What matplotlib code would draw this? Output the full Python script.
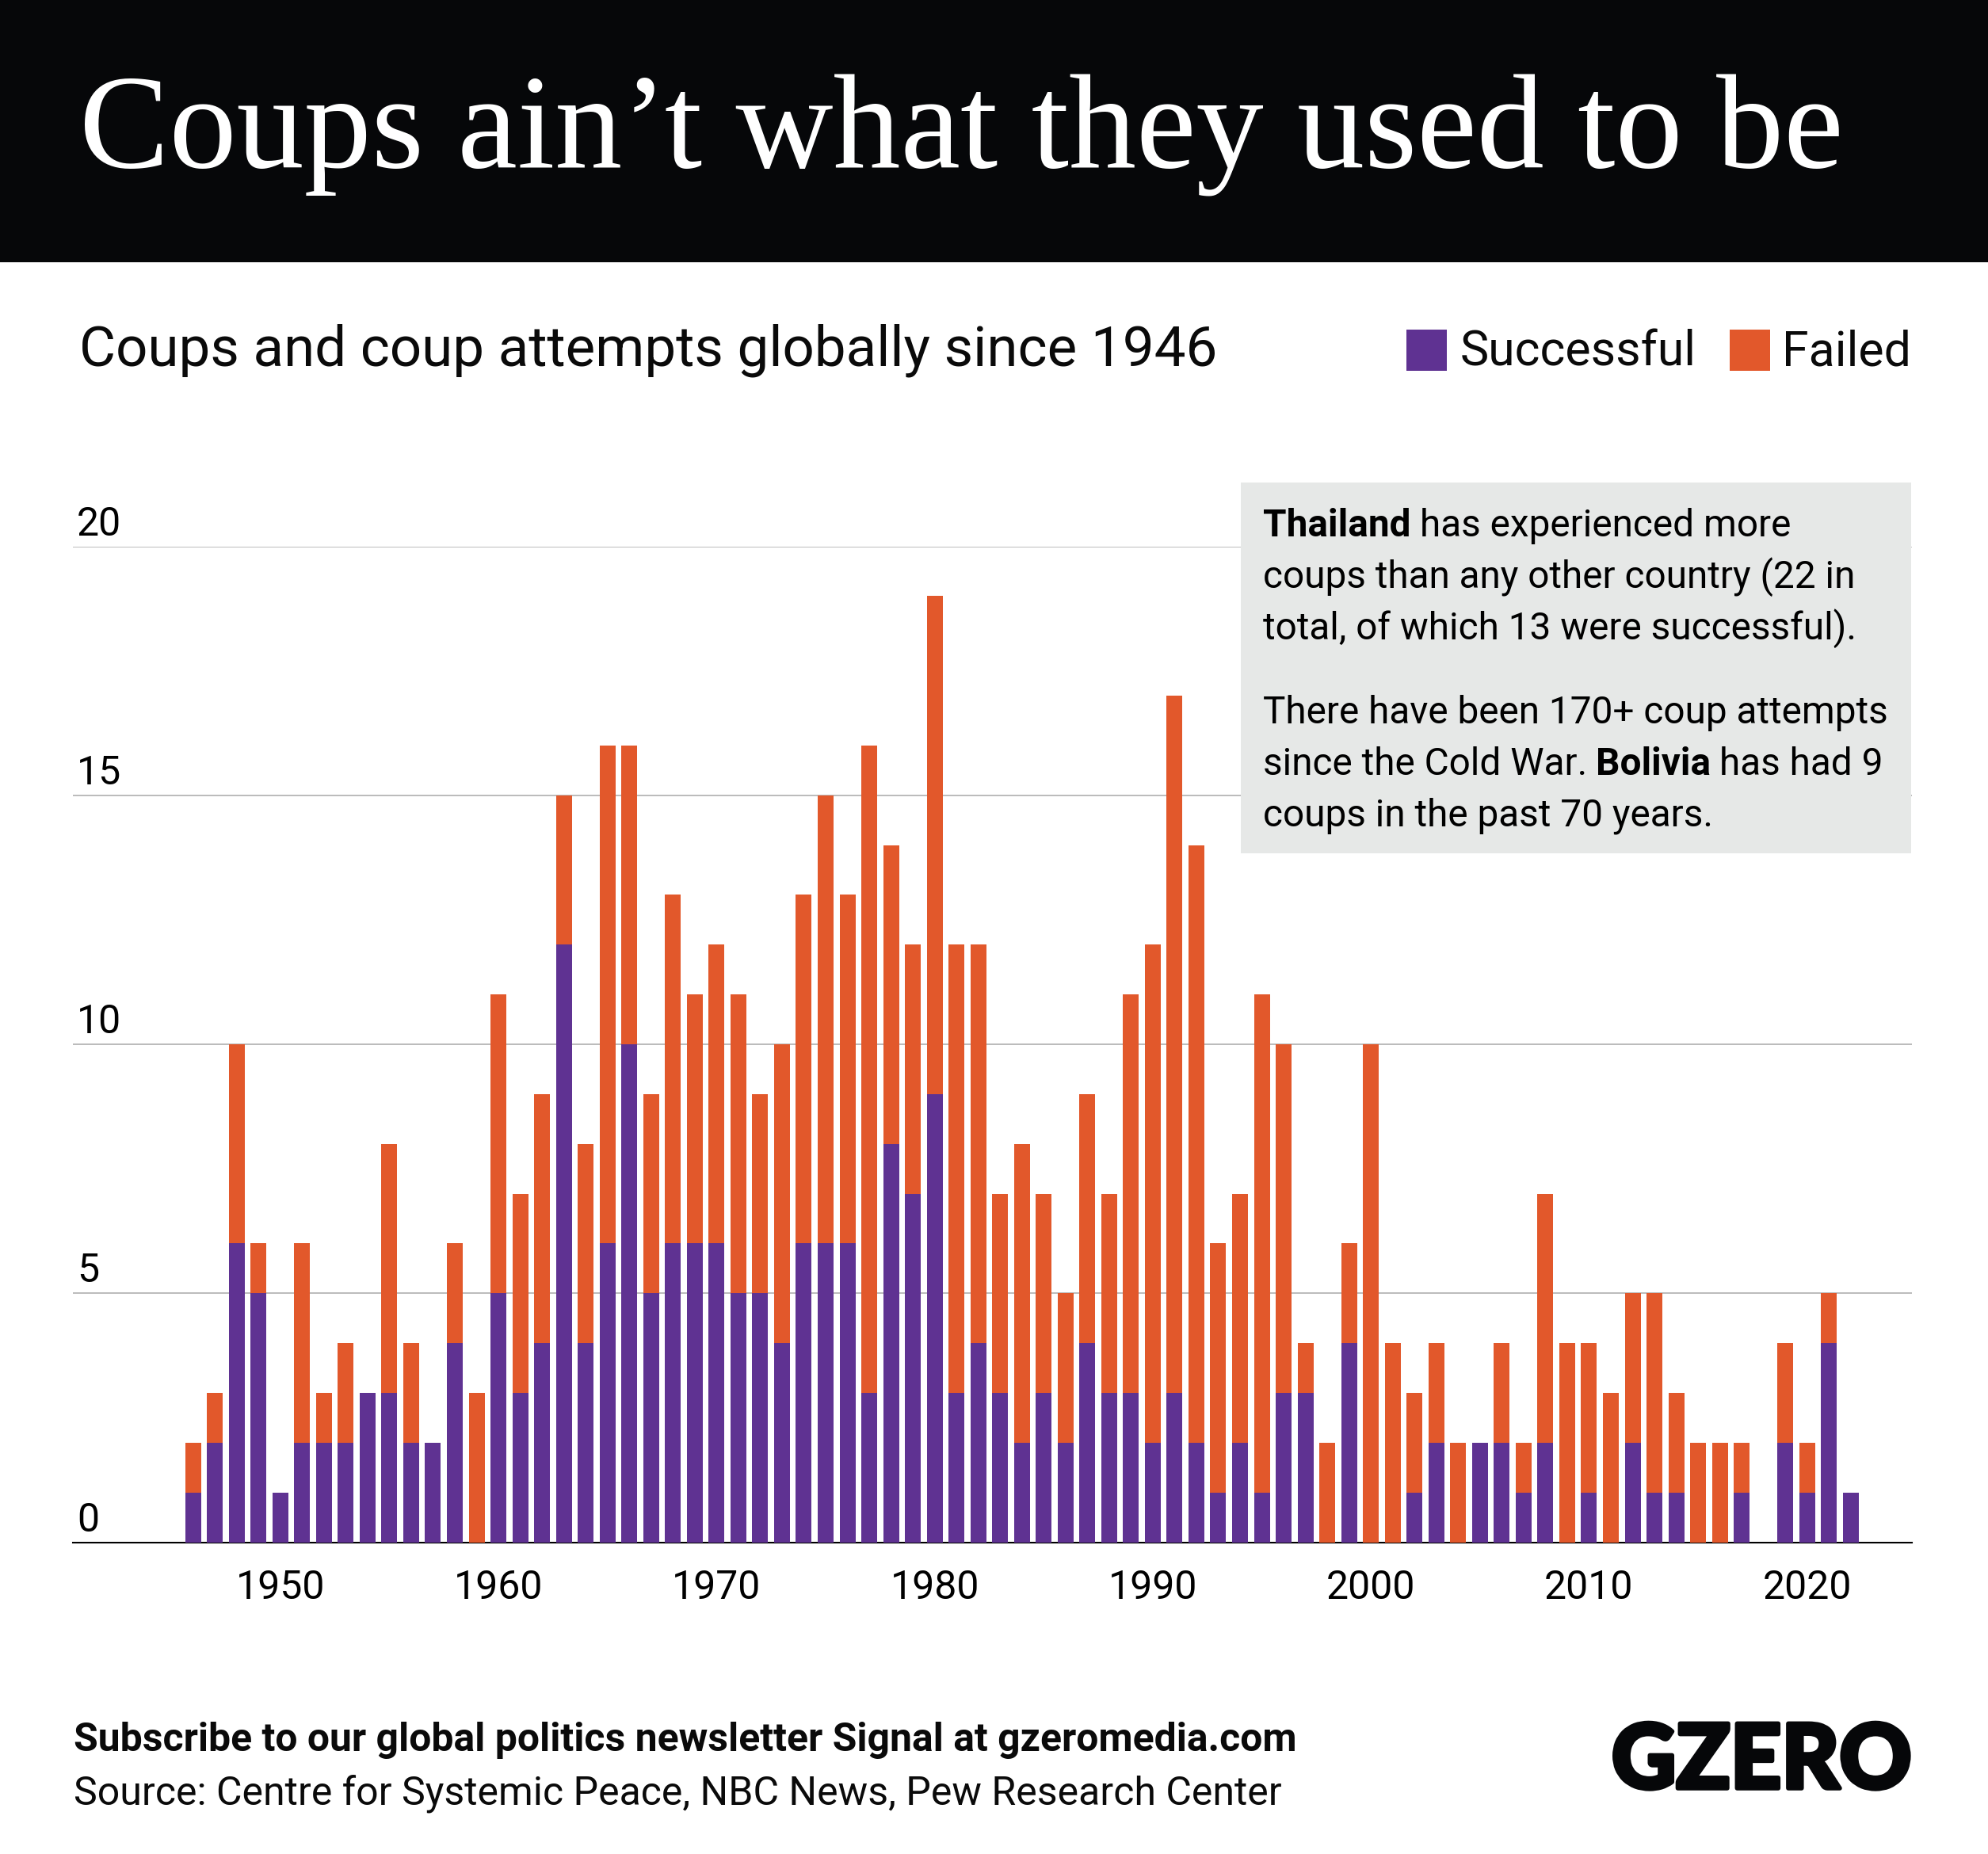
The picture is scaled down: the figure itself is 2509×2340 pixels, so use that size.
import matplotlib
matplotlib.use('Agg')
import matplotlib.pyplot as plt
import matplotlib.patheffects as pe
from matplotlib.patches import Rectangle
from matplotlib.transforms import blended_transform_factory

W, H = 2509, 2340

years = list(range(1946, 2023))
successful = [1, 2, 6, 5, 1, 2, 2, 2, 3, 3, 2, 2, 4, 0, 5, 3, 4, 12, 4, 6,
              10, 5, 6, 6, 6, 5, 5, 4, 6, 6, 6, 3, 8, 7, 9, 3, 4, 3, 2, 3,
              2, 4, 3, 3, 2, 3, 2, 1, 2, 1, 3, 3, 0, 4, 0, 0, 1, 2, 0, 2,
              2, 1, 2, 0, 1, 0, 2, 1, 1, 0, 0, 1, 0, 2, 1, 4, 1]
failed = [1, 1, 4, 1, 0, 4, 1, 2, 0, 5, 2, 0, 2, 3, 6, 4, 5, 3, 4, 10,
          6, 4, 7, 5, 6, 6, 4, 6, 7, 9, 7, 13, 6, 5, 10, 9, 8, 4, 6, 4,
          3, 5, 4, 8, 10, 14, 12, 5, 5, 10, 7, 1, 2, 2, 10, 4, 2, 2, 2, 0,
          2, 1, 5, 4, 3, 3, 3, 4, 2, 2, 2, 1, 0, 2, 1, 1, 0]
y_ticks = [0, 5, 10, 15, 20]
x_ticks = [1950, 1960, 1970, 1980, 1990, 2000, 2010, 2020]

PURPLE = '#5f3292'
ORANGE = '#e2582b'
BLACK = '#060709'

plt.rcParams['font.family'] = ['Roboto', 'DejaVu Sans']

fig = plt.figure(figsize=(W / 100, H / 100), dpi=100, facecolor='white')


def fx(x):
    return x / W


def fy(y):
    return 1 - y / H


def label(x, y, s, size, **kw):
    # x, y in image pixels, y is the text baseline
    return fig.text(fx(x), fy(y), s, fontsize=size, va='baseline', **kw)


def runs(x, y, parts, size):
    # line of text with mixed weights
    r = fig.canvas.get_renderer()
    for s, weight in parts:
        t = label(x, y, s, size, color='black', fontweight=weight)
        x += t.get_window_extent(r).width + size * 0.32


# header
fig.add_artist(Rectangle((0, fy(331)), 1, 331 / H, transform=fig.transFigure,
                         color=BLACK, lw=0))
label(100, 212, 'Coups ain’t what they used to be', 122.5, color='white',
      family=['Liberation Serif'])

label(100, 461, 'Coups and coup attempts globally since 1946', 51, color='#0a0a0a')

# legend
for x0, c, x1, s in [(1775, PURPLE, 1843, 'Successful'), (2183, ORANGE, 2249, 'Failed')]:
    fig.add_artist(Rectangle((fx(x0), fy(468)), 51 / W, 52 / H,
                             transform=fig.transFigure, color=c, lw=0))
    label(x1, 461, s, 43.8, color='#0a0a0a')

# chart
ax = fig.add_axes([fx(92), fy(1946.5), (2412.6 - 92) / W, (1946.5 - 689.5) / H])
ax.bar(years, successful, width=0.727, color=PURPLE, zorder=3)
ax.bar(years, failed, width=0.727, bottom=successful, color=ORANGE, zorder=3)
ax.set_xlim(1940.49, 2024.79)
ax.set_ylim(0, 20)
ax.set_yticks(y_ticks)
ax.set_yticklabels([])
ax.set_xticks(x_ticks)
ax.tick_params(axis='both', length=0)
ax.tick_params(axis='x', labelsize=36, pad=24)
ax.grid(axis='y', color='#a8a8a8', lw=1.1, zorder=1)
ax.set_axisbelow(True)
for side in ['top', 'left', 'right']:
    ax.spines[side].set_visible(False)
ax.spines['bottom'].set_linewidth(1.5)
ax.spines['bottom'].set_color('black')
ax.spines['bottom'].set_zorder(2)

tr = blended_transform_factory(fig.transFigure, ax.transData)
for v in y_ticks:
    ax.annotate(str(v), xy=(fx(97), v), xycoords=tr, xytext=(0, 10),
                textcoords='offset points', fontsize=36, va='baseline', color='black')

# note box
fig.add_artist(Rectangle((fx(1566), fy(1077)), (2412 - 1566) / W, (1077 - 609) / H,
                         transform=fig.transFigure, color='#e6e8e7', lw=0, zorder=5))
box_lines = [
    (677, [('Thailand', 'bold'), ('has experienced more', 'normal')]),
    (742.2, [('coups than any other country (22 in', 'normal')]),
    (806.5, [('total, of which 13 were successful).', 'normal')]),
    (913, [('There have been 170+ coup attempts', 'normal')]),
    (977.5, [('since the Cold War.', 'normal'), ('Bolivia', 'bold'), ('has had 9', 'normal')]),
    (1042.5, [('coups in the past 70 years.', 'normal')]),
]
for y, parts in box_lines:
    runs(1594, y, parts, 34.4)
for t in fig.texts:
    t.set_zorder(6)

# footer
label(93, 2210, 'Subscribe to our global politics newsletter Signal at gzeromedia.com',
      35.9, color='#0a0a0a', fontweight='bold')
label(93, 2277.5, 'Source: Centre for Systemic Peace, NBC News, Pew Research Center',
      36, color='#0a0a0a')
logo = label(2034, 2257, 'GZERO', 81, color=BLACK, family=['Lato'], fontweight='black')
logo.set_path_effects([pe.withStroke(linewidth=4, foreground=BLACK)])

fig.savefig('out.png', dpi=100)
